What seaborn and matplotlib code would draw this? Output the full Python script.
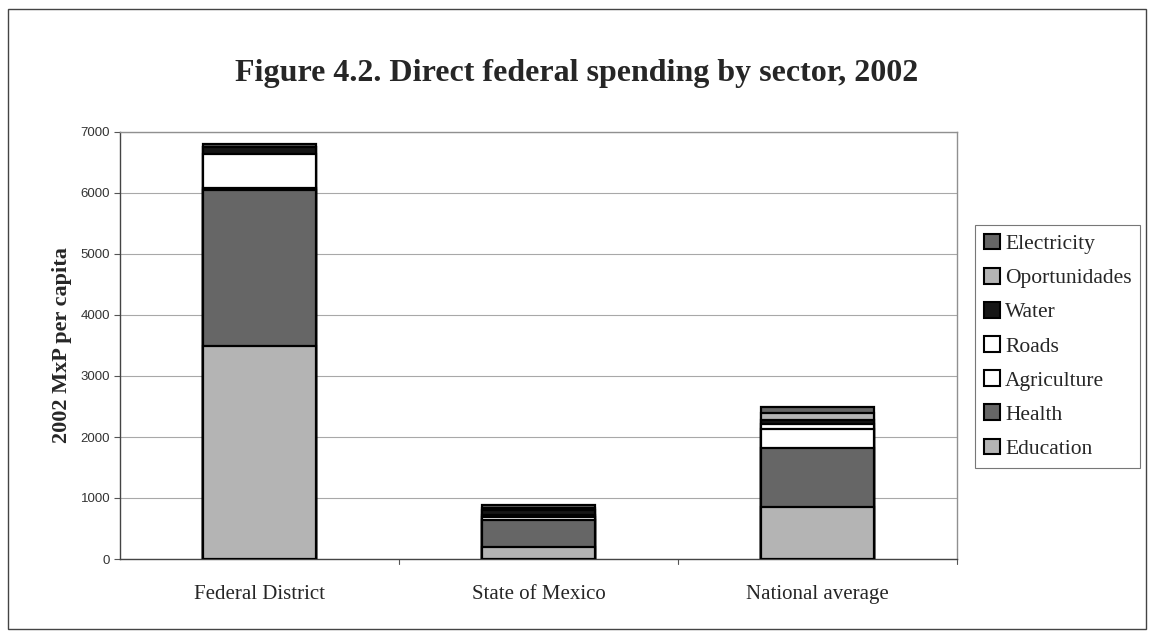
import numpy as np
import pandas as pd
import matplotlib
matplotlib.use("Agg")
import matplotlib.pyplot as plt
import matplotlib.patches as mpatches
import seaborn as sns

regions = ["Federal District", "State of Mexico", "National average"]
sectors = ["Education", "Health", "Agriculture", "Roads", "Water", "Oportunidades", "Electricity"]
education = [3500, 190, 855]
health = [2550, 450, 965]
agriculture = [30, 50, 316]
roads = [560, 30, 71]
water = [110, 90, 65]
oportunidades = [10, 30, 125]
electricity = [40, 40, 88]
yticks = [0, 1000, 2000, 3000, 4000, 5000, 6000, 7000]

values = [education, health, agriculture, roads, water, oportunidades, electricity]
colors = {"Education": "#b4b4b4", "Health": "#666666", "Agriculture": "#ffffff",
          "Roads": "#ffffff", "Water": "#151515", "Oportunidades": "#b4b4b4",
          "Electricity": "#666666"}

rows = []
for s, v in zip(sectors, values):
    for r, val in zip(regions, v):
        rows.append({"region": r, "sector": s, "value": val})
df = pd.DataFrame(rows)
df["cum"] = df.groupby("region")["value"].cumsum()

sns.set_style("white")
fig = plt.figure(figsize=(11.54, 6.37), dpi=100)
ax = fig.add_axes([120/1154, 1-559/637, (957-120)/1154, (559-132)/637])

for s in reversed(sectors):
    sub = df[df["sector"] == s]
    sns.barplot(data=sub, x="region", y="cum", order=regions, color=colors[s],
                width=0.405, edgecolor="black", linewidth=1.6, saturation=1,
                ax=ax, zorder=3)

ax.set_ylim(0, 7000)
ax.set_yticks(yticks)
ax.set_yticklabels([str(t) for t in yticks], fontfamily="Liberation Sans",
                   fontsize=9.5, color="#333333")
ax.set_xlim(-0.5, 2.5)
ax.set_xticks([0, 1, 2])
ax.set_xticklabels(regions, fontfamily="Liberation Serif", fontsize=15)
ax.tick_params(axis="x", length=0, pad=19)
ax.tick_params(axis="y", length=4, width=0.8, color="#555555", left=True, pad=3)
for sep in [0.5, 1.5, 2.5]:
    ax.plot([sep, sep], [0, -0.012], transform=ax.get_xaxis_transform(),
            color="#555555", lw=0.8, clip_on=False)
ax.grid(axis="y", color="#a8a8a8", lw=0.8, zorder=0)
ax.set_axisbelow(True)
for side in ["top", "right"]:
    ax.spines[side].set_color("#909090")
    ax.spines[side].set_linewidth(1.0)
for side in ["left", "bottom"]:
    ax.spines[side].set_color("#444444")
    ax.spines[side].set_linewidth(1.0)
ax.set_xlabel("")
ax.set_ylabel("2002 MxP per capita", fontfamily="Liberation Serif",
              fontweight="bold", fontsize=16, labelpad=6)

fig.text(577/1154, 1-73/637, "Figure 4.2. Direct federal spending by sector, 2002",
         ha="center", va="center", fontfamily="Liberation Serif",
         fontweight="bold", fontsize=23)

handles = [mpatches.Patch(facecolor=colors[s], edgecolor="black", linewidth=1.5, label=s)
           for s in reversed(sectors)]
leg = fig.legend(handles=handles, loc="upper left",
                 bbox_to_anchor=(975/1154, 1-225/637),
                 prop={"family": "Liberation Serif", "size": 15.5},
                 frameon=True, fancybox=False, handlelength=0.75, handleheight=0.75,
                 handletextpad=0.25, labelspacing=0.64, borderpad=0.4, borderaxespad=0)
leg.get_frame().set_edgecolor("#555555")
leg.get_frame().set_linewidth(0.8)

fig.patches.append(mpatches.Rectangle((8/1154, 8/637), 1138/1154, 620/637,
                                      transform=fig.transFigure, fill=False,
                                      edgecolor="#444444", lw=1.0))

fig.savefig("out.png", dpi=100, facecolor="white")
